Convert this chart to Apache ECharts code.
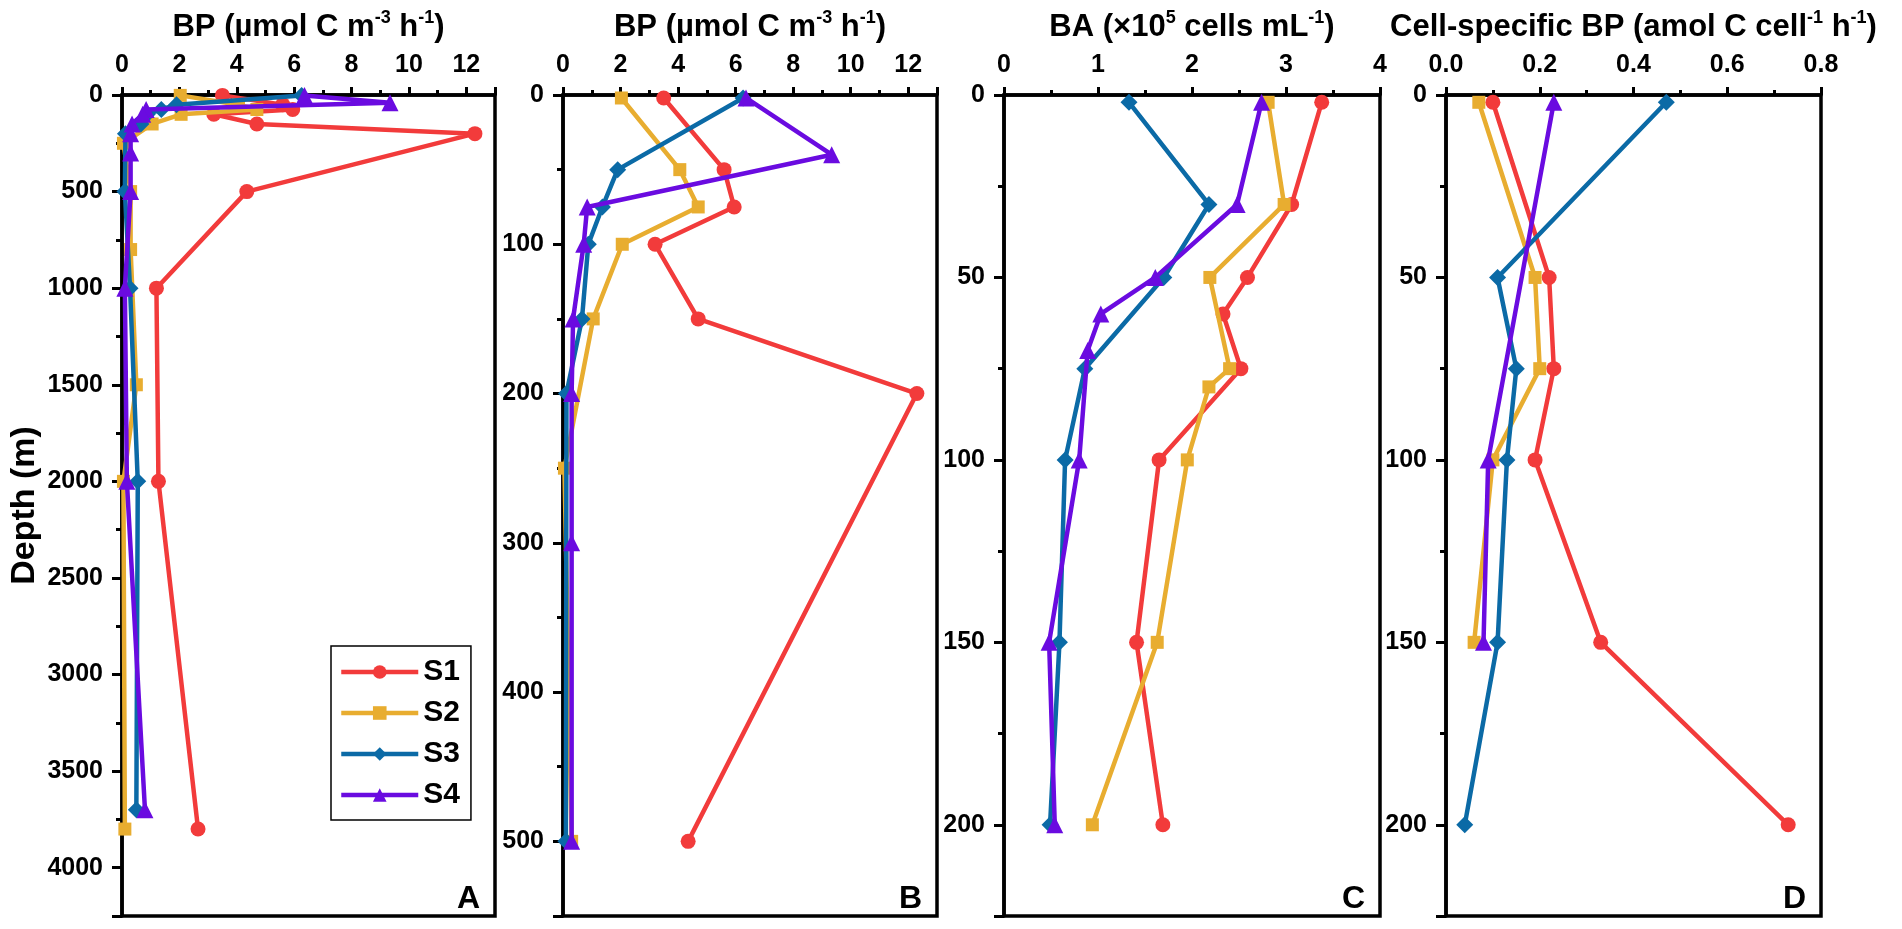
<!DOCTYPE html>
<html>
<head>
<meta charset="utf-8">
<title>BP and BA depth profiles</title>
<script src="https://cdn.jsdelivr.net/npm/echarts@6/dist/echarts.min.js"></script>
<style>
  html, body { margin: 0; padding: 0; background: #fff; }
  #chart { width: 1902px; height: 929px; }
</style>
</head>
<body>
<div id="chart"></div>
<script>
// station names
var stations = ['S1', 'S2', 'S3', 'S4'];

// panels A + B: depth (m) and BP (µmol C m-3 h-1)
var s1Depth = [2, 50, 75, 100, 150, 200, 500, 1000, 2000, 3800];
var s1BP    = [3.5, 5.6, 5.95, 3.2, 4.7, 12.3, 4.35, 1.2, 1.27, 2.65];
var s2Depth = [2, 50, 75, 100, 150, 250, 500, 800, 1500, 2000, 3800];
var s2BP    = [2.03, 4.06, 4.7, 2.06, 1.05, 0.05, 0.3, 0.3, 0.5, 0.05, 0.1];
var s3Depth = [2, 50, 75, 100, 150, 200, 500, 1000, 2000, 3700];
var s3BP    = [6.26, 1.9, 1.37, 0.88, 0.66, 0.12, 0.1, 0.28, 0.55, 0.5];
var s4Depth = [2, 40, 75, 100, 150, 200, 300, 500, 1000, 2000, 3700];
var s4BP    = [6.36, 9.34, 0.84, 0.72, 0.35, 0.3, 0.3, 0.3, 0.1, 0.17, 0.8];

// panel C: BA (x10^5 cells mL-1)
var s1BADepth = [2, 30, 50, 60, 75, 100, 150, 200];
var s1BA      = [3.38, 3.06, 2.59, 2.33, 2.52, 1.65, 1.41, 1.69];
var s2BADepth = [2, 30, 50, 75, 80, 100, 150, 200];
var s2BA      = [2.81, 2.98, 2.19, 2.4, 2.18, 1.95, 1.63, 0.94];
var s3BADepth = [2, 30, 50, 75, 100, 150, 200];
var s3BA      = [1.33, 2.18, 1.70, 0.86, 0.65, 0.59, 0.49];
var s4BADepth = [2, 30, 50, 60, 70, 100, 150, 200];
var s4BA      = [2.74, 2.48, 1.61, 1.03, 0.89, 0.80, 0.48, 0.54];

// panel D: cell-specific BP (amol C cell-1 h-1)
var s1CsDepth = [2, 50, 75, 100, 150, 200];
var s1Cs      = [0.10, 0.22, 0.23, 0.19, 0.33, 0.73];
var s2CsDepth = [2, 50, 75, 100, 150];
var s2Cs      = [0.07, 0.19, 0.20, 0.10, 0.06];
var s3CsDepth = [2, 50, 75, 100, 150, 200];
var s3Cs      = [0.47, 0.11, 0.15, 0.13, 0.11, 0.04];
var s4CsDepth = [2, 100, 150];
var s4Cs      = [0.23, 0.09, 0.08];

// x tick labels on the top axes
var bpTicks = ['0', '2', '4', '6', '8', '10', '12'];
var baTicks = ['0', '1', '2', '3', '4'];
var csTicks = ['0.0', '0.2', '0.4', '0.6', '0.8'];

var colors  = ['#F23B3B', '#E8AD30', '#0B6AA6', '#6A0BE0'];
var symbols = ['circle', 'rect', 'diamond', 'triangle'];
var symbolSizes = [15, 13, 17, 17];
var font = "'Liberation Sans', Arial, sans-serif";

function pairs(xs, ds, maxDepth) {
    var out = [];
    for (var i = 0; i < xs.length; i++) {
        if (maxDepth == null || ds[i] <= maxDepth) {
            out.push([xs[i], ds[i]]);
        }
    }
    return out;
}

var nameStyle = {
    fontSize: 31, fontWeight: 'bold', color: '#000', fontFamily: font, lineHeight: 37,
    rich: {
        sup: { fontSize: 18, fontWeight: 'bold', color: '#000', fontFamily: font, verticalAlign: 'top', lineHeight: 21 }
    }
};

function xAxisFor(idx, max, interval, name, ticks, showMax) {
    return {
        type: 'value', gridIndex: idx, position: 'top',
        min: 0, max: max, interval: interval,
        name: name, nameLocation: 'middle', nameGap: 49, nameMoveOverlap: false,
        nameTextStyle: nameStyle,
        axisLine: { show: true, onZero: false, lineStyle: { color: '#000', width: 3.5 } },
        axisTick: { show: true, inside: false, length: 8, lineStyle: { color: '#000', width: 3 } },
        minorTick: { show: true, splitNumber: 2, length: 5, lineStyle: { color: '#000', width: 3 } },
        splitLine: { show: false },
        axisLabel: {
            margin: 17, fontSize: 25, fontWeight: 'bold', color: '#000', fontFamily: font,
            showMaxLabel: showMax,
            formatter: function (v) {
                var k = Math.round(v / interval);
                return ticks[k] != null ? ticks[k] : '';
            }
        }
    };
}

function yAxisFor(idx, max, interval, name) {
    return {
        type: 'value', gridIndex: idx, position: 'left', inverse: true,
        min: 0, max: max, interval: interval,
        name: name, nameLocation: 'middle', nameGap: 80, nameMoveOverlap: false,
        nameTextStyle: { fontSize: 34, fontWeight: 'bold', color: '#000', fontFamily: font },
        axisLine: { show: true, onZero: false, lineStyle: { color: '#000', width: 3.5 } },
        axisTick: { show: true, inside: false, length: 10, lineStyle: { color: '#000', width: 3 } },
        minorTick: { show: true, splitNumber: 2, length: 6, lineStyle: { color: '#000', width: 3 } },
        splitLine: { show: false },
        axisLabel: {
            margin: 19, fontSize: 25, fontWeight: 'bold', color: '#000', fontFamily: font,
            showMaxLabel: false,
            formatter: function (v) { return String(v); }
        }
    };
}

// panel frames (left edge, right edge)
var frames = [[122, 495], [563, 937], [1004, 1380], [1446, 1821]];
var letters = ['A', 'B', 'C', 'D'];

var grids = frames.map(function (f) {
    return {
        left: f[0], width: f[1] - f[0], top: 95, height: 821,
        show: true, borderColor: '#000', borderWidth: 3.5,
        containLabel: false, outerBoundsMode: 'none'
    };
});

var bpName = 'BP (µmol C m{sup|-3} h{sup|-1})';

var xAxes = [
    xAxisFor(0, 13, 2, bpName, bpTicks, false),
    xAxisFor(1, 13, 2, bpName, bpTicks, false),
    xAxisFor(2, 4, 1, 'BA (×10{sup|5} cells mL{sup|-1})', baTicks, true),
    xAxisFor(3, 0.8, 0.2, 'Cell-specific BP (amol C cell{sup|-1} h{sup|-1})', csTicks, true)
];
var yAxes = [
    yAxisFor(0, 4250, 500, 'Depth (m)'),
    yAxisFor(1, 550, 100, ''),
    yAxisFor(2, 225, 50, ''),
    yAxisFor(3, 225, 50, '')
];

var panelData = [
    [pairs(s1BP, s1Depth), pairs(s2BP, s2Depth), pairs(s3BP, s3Depth), pairs(s4BP, s4Depth)],
    [pairs(s1BP, s1Depth, 500), pairs(s2BP, s2Depth, 500), pairs(s3BP, s3Depth, 500), pairs(s4BP, s4Depth, 500)],
    [pairs(s1BA, s1BADepth), pairs(s2BA, s2BADepth), pairs(s3BA, s3BADepth), pairs(s4BA, s4BADepth)],
    [pairs(s1Cs, s1CsDepth), pairs(s2Cs, s2CsDepth), pairs(s3Cs, s3CsDepth), pairs(s4Cs, s4CsDepth)]
];

var series = [];
panelData.forEach(function (rows, p) {
    rows.forEach(function (data, s) {
        series.push({
            type: 'line', name: stations[s],
            xAxisIndex: p, yAxisIndex: p,
            data: data,
            symbol: symbols[s], symbolSize: symbolSizes[s],
            color: colors[s],
            lineStyle: { width: 4.5, color: colors[s] },
            itemStyle: { color: colors[s] },
            z: 2 + s
        });
    });
});

var graphic = frames.map(function (f, i) {
    return {
        type: 'text', z: 10,
        style: {
            text: letters[i], x: f[1] - 15, y: 915,
            align: 'right', verticalAlign: 'bottom',
            font: 'bold 32px ' + font, fill: '#000'
        }
    };
});

var chart = echarts.init(document.getElementById('chart'));
chart.setOption({
    animation: false,
    backgroundColor: '#fff',
    grid: grids,
    xAxis: xAxes,
    yAxis: yAxes,
    legend: {
        data: stations, left: 331, top: 646, orient: 'vertical',
        itemWidth: 77, itemHeight: 17, itemGap: 11, itemTextGap: 8,
        lineStyle: { width: 4.5 },
        textStyle: { fontSize: 30, fontWeight: 'bold', color: '#000', fontFamily: font },
        borderColor: '#000', borderWidth: 1.5, borderRadius: 0,
        padding: [11, 11, 10, 8], backgroundColor: '#fff',
        selectedMode: false
    },
    graphic: graphic,
    series: series
});
</script>
</body>
</html>
